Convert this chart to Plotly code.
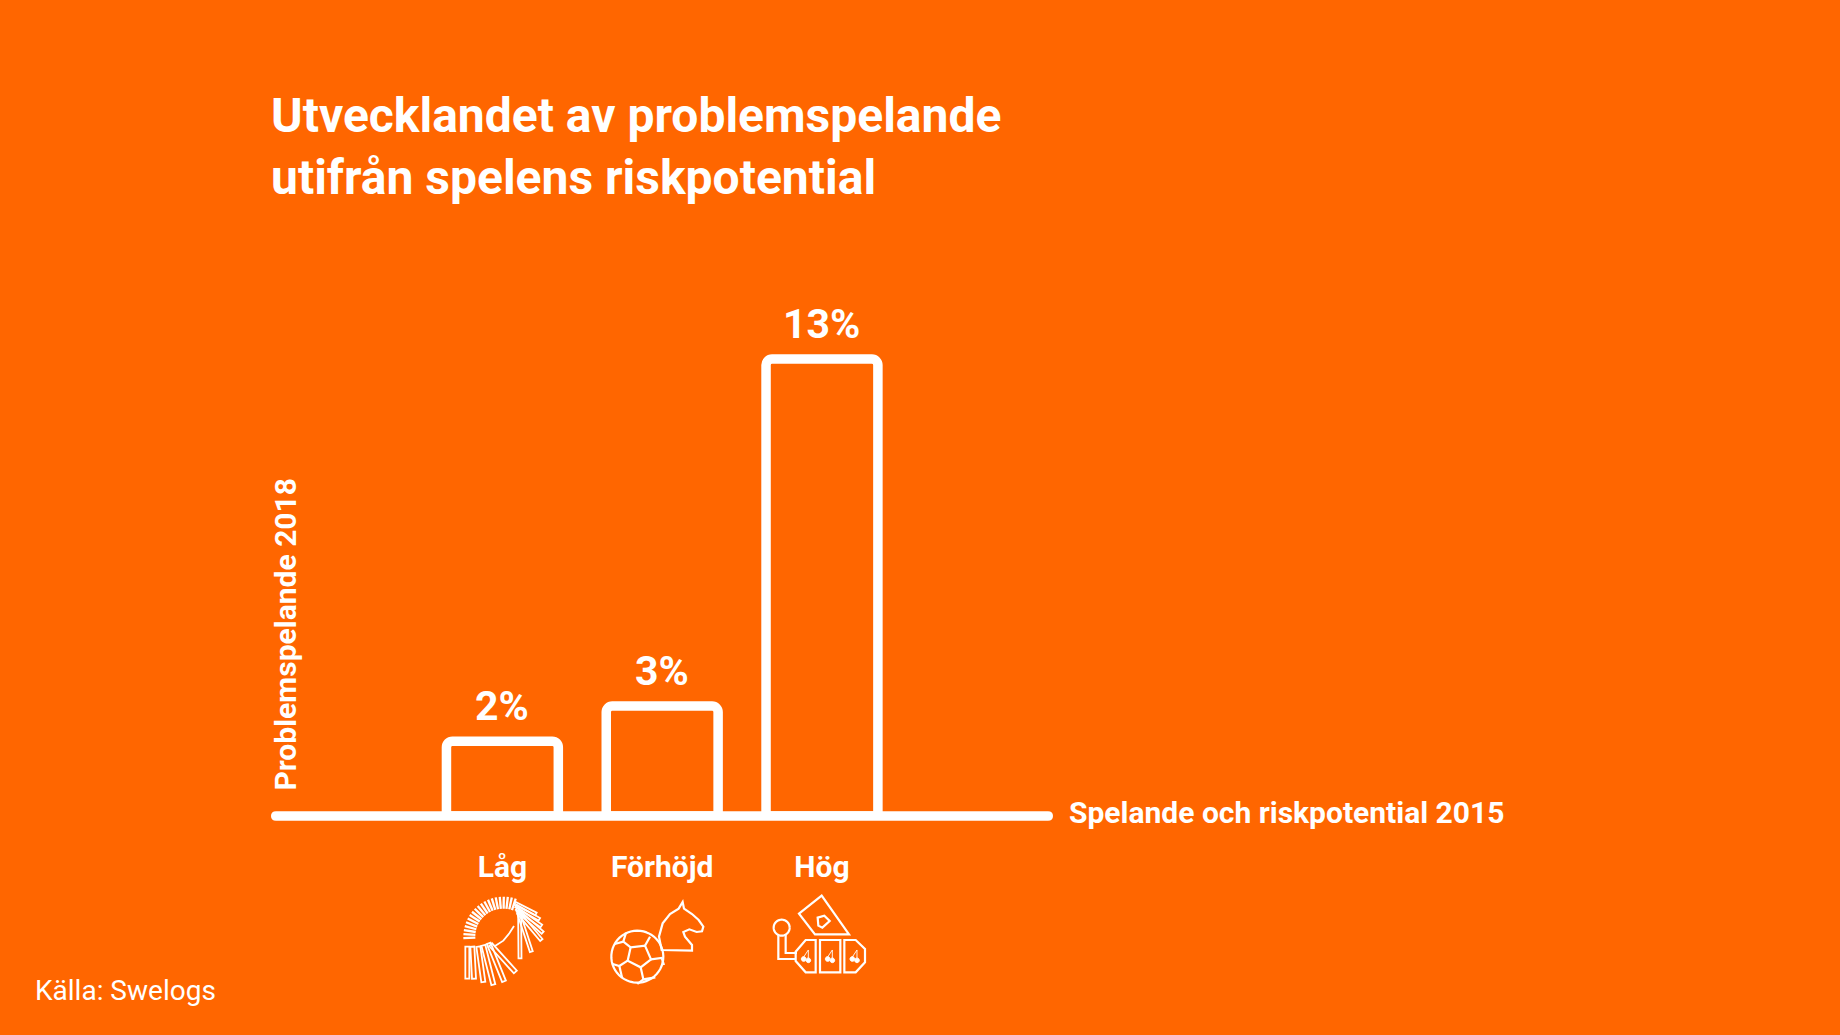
import math
import plotly.graph_objects as go

categories = ['Låg', 'Förhöjd', 'Hög']
values = [2.13, 3.13, 13]
value_labels = ['2%', '3%', '13%']

orange = '#FF6600'
white = '#FFFFFF'
font = 'Roboto'

W = 1840
H = 1035

#pixel position on the page to paper coords
def px(x, y):
    return '%.5f %.5f' % (x / W, 1 - y / H)

#Path through pixel points, icon coords are the 3x zoom coords of the crop
def iconPath(points, x0, y0, close=False):
    cmds = []
    for i, p in enumerate(points):
        cmds.append(('M ' if i == 0 else 'L ') + px(x0 + p[0] / 3, y0 + p[1] / 3))
    if close:
        cmds.append('Z')
    return ' '.join(cmds)

def arcPoints(cx, cy, r, a0, a1, n=40):
    pts = []
    for i in range(n + 1):
        a = math.radians(a0 + (a1 - a0) * i / n)
        pts.append((cx + r * math.cos(a), cy - r * math.sin(a)))
    return pts

def addIcon(fig, points, x0, y0, close=False, width=2.2, fill=None):
    fig.add_shape(type='path', xref='paper', yref='paper', path=iconPath(points, x0, y0, close),
                  line=dict(color=white, width=width), fillcolor=fill, layer='above')

#Thin domino outline from a to b
def domino(fig, a, b, w, x0, y0):
    dx = b[0] - a[0]
    dy = b[1] - a[1]
    d = math.hypot(dx, dy)
    nx = -dy / d * w / 2
    ny = dx / d * w / 2
    pts = [(a[0] + nx, a[1] + ny), (b[0] + nx, b[1] + ny), (b[0] - nx, b[1] - ny), (a[0] - nx, a[1] - ny)]
    addIcon(fig, pts, x0, y0, close=True, width=1.8)

fig = go.Figure()

fig.add_trace(go.Bar(x=categories, y=values, cliponaxis=False,
                     width=0.70,
                     marker=dict(color=orange, line=dict(color=white, width=9.5), cornerradius=6)))

#value labels sit further from the bar than textposition outside allows
for c, v, t in zip(categories, values, value_labels):
    fig.add_annotation(x=c, y=v, text=t, showarrow=False, yanchor='bottom', yshift=9,
                       font=dict(size=41, color=white, family=font, weight='bold'))

fig.update_layout(
    width=W, height=H,
    paper_bgcolor=orange, plot_bgcolor=orange,
    showlegend=False,
    margin=dict(l=0, r=0, t=0, b=0),
    font=dict(family=font, color=white),
    title=dict(text='Utvecklandet av problemspelande<br>utifrån spelens riskpotential',
               x=271 / W, xanchor='left', y=1 - 132 / H, yanchor='top',
               font=dict(size=48, color=white, family=font, weight='bold')),
)

fig.update_xaxes(domain=[271 / W, 1050 / W], range=[-1.448, 3.427], showgrid=False, zeroline=False,
                 showline=False, ticks='', ticklabelstandoff=30,
                 tickfont=dict(size=30, color=white, family=font, weight='bold'))
fig.update_yaxes(domain=[1 - 816 / H, 1 - 100 / H], range=[0, 716 / 35.15], showgrid=False,
                 zeroline=False, showticklabels=False, visible=False)

#baseline with round ends
fig.add_shape(type='path', xref='paper', yref='paper', fillcolor=white, line=dict(width=0), layer='above',
              path='M ' + px(276, 811.3) + ' L ' + px(1048, 811.3) + ' Q ' + px(1053, 811.3) + ' ' + px(1053, 816)
                   + ' Q ' + px(1053, 820.7) + ' ' + px(1048, 820.7) + ' L ' + px(276, 820.7)
                   + ' Q ' + px(271, 820.7) + ' ' + px(271, 816) + ' Q ' + px(271, 811.3) + ' ' + px(276, 811.3) + ' Z')

#dominoes
dx0, dy0 = 450, 890
for p in arcPoints(160, 140, 100, 72, 182, n=19):
    a = math.atan2(p[1] - 140, p[0] - 160)
    addIcon(fig, [(160 + 84 * math.cos(a), 140 + 84 * math.sin(a)), (160 + 120 * math.cos(a), 140 + 120 * math.sin(a))],
            dx0, dy0, width=2.3)
right_tops = [(195, 40), (198, 48), (200, 56), (203, 62), (205, 68), (207, 72), (209, 72)]
right_ends = [(258, 72), (268, 88), (274, 108), (278, 128), (274, 150), (244, 185), (210, 205)]
for a, b in zip(right_tops, right_ends):
    domino(fig, a, b, 9, dx0, dy0)
left_tops = [(52, 170), (67, 170), (85, 170), (100, 166), (116, 160), (122, 164)]
left_ends = [(52, 266), (72, 266), (100, 276), (130, 284), (162, 274), (196, 246)]
for a, b in zip(left_tops, left_ends):
    domino(fig, a, b, 12, dx0, dy0)
addIcon(fig, [(135, 168), (160, 152), (178, 130), (192, 108)], dx0, dy0, width=1.8)

#football and horse
bx0, by0 = 600, 890
addIcon(fig, arcPoints(112, 200, 78, 72, -355 + 0, n=60)[:52], bx0, by0)
addIcon(fig, [(92, 172), (135, 167), (153, 208), (122, 232), (83, 212)], bx0, by0, close=True)
addIcon(fig, [(78, 128), (70, 155), (92, 172)], bx0, by0)
addIcon(fig, [(70, 155), (44, 162)], bx0, by0)
addIcon(fig, [(135, 167), (150, 140)], bx0, by0)
addIcon(fig, [(153, 208), (185, 204), (192, 225)], bx0, by0)
addIcon(fig, [(122, 232), (130, 268), (112, 282)], bx0, by0)
addIcon(fig, [(130, 268), (166, 262)], bx0, by0)
addIcon(fig, [(83, 212), (58, 228), (38, 222)], bx0, by0)
addIcon(fig, [(58, 228), (66, 262)], bx0, by0)
addIcon(fig, [(185, 180), (177, 140), (188, 100), (210, 72), (236, 56), (248, 36), (252, 56), (276, 72),
              (296, 90), (310, 110), (306, 124), (290, 126), (268, 118), (250, 126), (255, 140), (276, 165),
              (276, 182)], bx0, by0, close=True)

#card and slot machine
sx0, sy0 = 765, 885
addIcon(fig, [(102, 86), (170, 32), (252, 148), (150, 148)], sx0, sy0, close=True)
addIcon(fig, [(158, 98), (178, 92), (194, 108), (172, 128), (160, 122)], sx0, sy0, close=True)
addIcon(fig, arcPoints(50, 128, 24, 0, 360), sx0, sy0)
addIcon(fig, [(40, 150), (40, 222), (92, 222)], sx0, sy0)
addIcon(fig, [(62, 150), (62, 204), (96, 204)], sx0, sy0)
addIcon(fig, [(152, 165), (122, 165), (92, 200), (92, 228), (122, 262), (152, 262)], sx0, sy0, close=True)
addIcon(fig, [(165, 165), (226, 165), (226, 262), (165, 262)], sx0, sy0, close=True)
addIcon(fig, [(238, 165), (272, 165), (300, 192), (300, 232), (272, 262), (238, 262)], sx0, sy0, close=True)
for off in [0, 72, 146]:
    addIcon(fig, arcPoints(116 + off, 222, 7, 0, 360, n=16), sx0, sy0, close=True, width=1, fill=white)
    addIcon(fig, arcPoints(130 + off, 226, 7, 0, 360, n=16), sx0, sy0, close=True, width=1, fill=white)
    addIcon(fig, [(116 + off, 216), (130 + off, 195), (130 + off, 220)], sx0, sy0, width=0.9)

fig.add_annotation(text='<b>Spelande och riskpotential 2015</b>', xref='paper', yref='paper',
                   x=1067 / W, y=1 - 812 / H, xanchor='left', yanchor='middle', showarrow=False,
                   font=dict(size=30, color=white, family=font))
fig.add_annotation(text='<b>Problemspelande 2018</b>', xref='paper', yref='paper',
                   x=285 / W, y=1 - 793 / H, xanchor='center', yanchor='bottom', textangle=-90, showarrow=False,
                   font=dict(size=30, color=white, family=font))
fig.add_annotation(text='Källa: Swelogs', xref='paper', yref='paper',
                   x=33 / W, y=1 - 990 / H, xanchor='left', yanchor='middle', showarrow=False,
                   font=dict(size=28, color=white, family=font))

fig.write_html("out.html", config=dict(displayModeBar=False),
               post_script="document.body.style.margin='0';document.body.style.background='#FF6600';")
